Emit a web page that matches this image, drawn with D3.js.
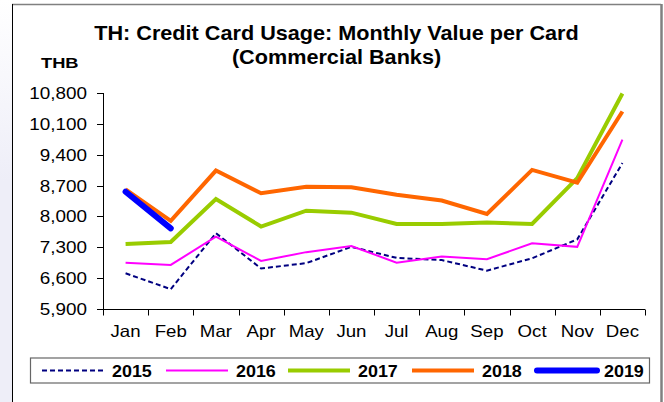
<!DOCTYPE html>
<html>
<head>
<meta charset="utf-8">
<script src="https://cdn.jsdelivr.net/npm/d3@7"></script>
<style>
  html, body { margin: 0; padding: 0; background: #fff; }
  svg { display: block; font-family: Arial, "Liberation Sans", sans-serif; }
</style>
</head>
<body>
<svg id="chart" width="664" height="402"></svg>
<script>
// Monthly value per credit card, THB
const months = ["Jan","Feb","Mar","Apr","May","Jun","Jul","Aug","Sep","Oct","Nov","Dec"];
const yTicks = [5900, 6600, 7300, 8000, 8700, 9400, 10100, 10800];

const v2015 = [6710, 6350, 7620, 6820, 6940, 7310, 7060, 7010, 6770, 7050, 7480, 9210];
const v2016 = [6950, 6900, 7540, 6990, 7190, 7330, 6950, 7090, 7030, 7390, 7310, 9740];
const v2017 = [7375, 7420, 8395, 7770, 8130, 8085, 7830, 7830, 7860, 7830, 8870, 10790];
const v2018 = [8615, 7900, 9040, 8525, 8675, 8660, 8490, 8360, 8055, 9055, 8765, 10380];
const v2019 = [8560, 7730];

const series = [
  { name: "2015", values: v2015, color: "#000080", width: 2, dash: "5,3", cap: "butt" },
  { name: "2016", values: v2016, color: "#FF00FF", width: 2, dash: null, cap: "butt" },
  { name: "2017", values: v2017, color: "#99CC00", width: 4, dash: null, cap: "butt" },
  { name: "2018", values: v2018, color: "#FF6600", width: 4, dash: null, cap: "butt" },
  { name: "2019", values: v2019, color: "#0000FF", width: 6, dash: null, cap: "round" }
];

const svg = d3.select("#chart");

// Text drawn slightly widened, anchored at (x, y)
function wideText(parent, x, y, str, size, sx, opts = {}) {
  return parent.append("text")
    .attr("transform", `translate(${x},${y}) scale(${sx},1)`)
    .attr("text-anchor", opts.anchor || "start")
    .attr("font-weight", opts.bold ? "bold" : "normal")
    .attr("font-size", size)
    .attr("fill", "#000")
    .text(str);
}

// Page backdrop and frame
const grad = svg.append("defs").append("linearGradient")
  .attr("id", "side").attr("x1", 0).attr("y1", 0).attr("x2", 0).attr("y2", 1);
grad.append("stop").attr("offset", "0%").attr("stop-color", "#ffffff");
grad.append("stop").attr("offset", "45%").attr("stop-color", "#eeeef8");
grad.append("stop").attr("offset", "100%").attr("stop-color", "#eeeef8");
svg.append("rect").attr("x", 0).attr("y", 0).attr("width", 12).attr("height", 402).attr("fill", "url(#side)");
svg.append("line").attr("x1", 12).attr("x2", 661).attr("y1", 4.5).attr("y2", 4.5)
  .attr("stroke", "#808080").attr("stroke-width", 1.5);
svg.append("line").attr("x1", 12.5).attr("x2", 12.5).attr("y1", 4).attr("y2", 402)
  .attr("stroke", "#000").attr("stroke-width", 1);
svg.append("line").attr("x1", 661.5).attr("x2", 661.5).attr("y1", 4).attr("y2", 402)
  .attr("stroke", "#808080").attr("stroke-width", 2.5);

// Title and unit label
wideText(svg, 336.5, 40, "TH: Credit Card Usage: Monthly Value per Card", 19.5, 1.11, { anchor: "middle", bold: true });
wideText(svg, 336.5, 64, "(Commercial Banks)", 19.5, 1.11, { anchor: "middle", bold: true });
wideText(svg, 41, 68, "THB", 15.5, 1.18, { bold: true });

// Scales
const x = d3.scaleBand().domain(months).range([103, 645]);
const y = d3.scaleLinear().domain([5900, 10800]).range([309, 93]);

// Y axis
const fmt = d3.format(",");
const gy = svg.append("g");
gy.append("line").attr("x1", 103.5).attr("x2", 103.5).attr("y1", y(10800)).attr("y2", y(5900)).attr("stroke", "#000");
gy.selectAll("line.tick").data(yTicks).join("line").attr("class", "tick")
  .attr("x1", 97).attr("x2", 103.5)
  .attr("y1", d => Math.round(y(d)) + 0.5).attr("y2", d => Math.round(y(d)) + 0.5)
  .attr("stroke", "#000");
yTicks.forEach(t => wideText(gy, 87, y(t) + 6, fmt(t), 16, 1.18, { anchor: "end" }));

// X axis with ticks at category boundaries
const gx = svg.append("g").attr("transform", `translate(0,${y(5900) + 0.5})`);
gx.append("line").attr("x1", 103).attr("x2", 645).attr("stroke", "#000");
const bounds = months.map(m => x(m)).concat([x.range()[1]]);
gx.selectAll("line.tick").data(bounds).join("line").attr("class", "tick")
  .attr("x1", d => Math.round(d) + 0.5).attr("x2", d => Math.round(d) + 0.5)
  .attr("y1", 0).attr("y2", 6).attr("stroke", "#000");
months.forEach(m => wideText(gx, x(m) + x.bandwidth() / 2, 27.5, m, 16.5, 1.13, { anchor: "middle" }));

// Lines
const line = d3.line()
  .x((d, i) => x(months[i]) + x.bandwidth() / 2)
  .y(d => y(d));

svg.append("g").selectAll("path").data(series).join("path")
  .attr("d", s => line(s.values))
  .attr("fill", "none")
  .attr("stroke", s => s.color)
  .attr("stroke-width", s => s.width)
  .attr("stroke-dasharray", s => s.dash)
  .attr("stroke-linecap", s => s.cap)
  .attr("stroke-linejoin", "miter");

// Legend
const lg = svg.append("g");
lg.append("rect").attr("x", 30.5).attr("y", 358).attr("width", 619).attr("height", 25)
  .attr("fill", "#fff").attr("stroke", "#666").attr("stroke-width", 1.2);
const legendX = [42, 166, 288, 412, 534];
const items = lg.selectAll("g").data(series).join("g")
  .attr("transform", (d, i) => `translate(${legendX[i]},370.5)`);
items.append("line")
  .attr("x1", d => d.cap === "round" ? 3 : 0)
  .attr("x2", d => d.cap === "round" ? 63 : 62)
  .attr("stroke", d => d.color).attr("stroke-width", d => d.width)
  .attr("stroke-dasharray", d => d.dash).attr("stroke-linecap", d => d.cap);
items.each(function(d) {
  wideText(d3.select(this), 70, 6.5, d.name, 16, 1.12, { bold: true });
});
</script>
</body>
</html>
